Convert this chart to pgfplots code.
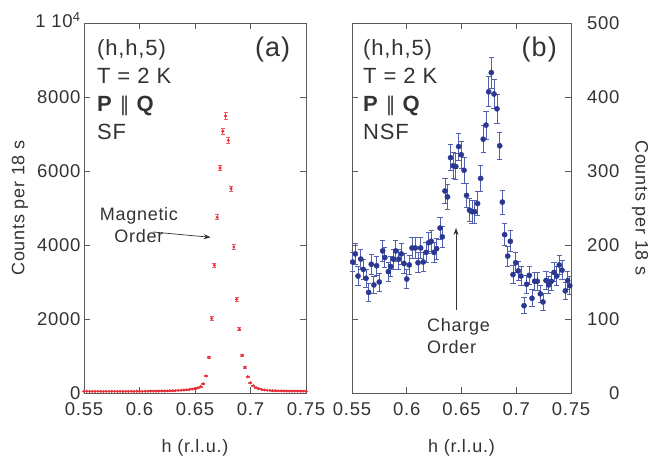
\documentclass[border=0pt]{standalone}
\usepackage{fontspec}
\setmainfont{Liberation Sans}[LetterSpace=4]
\newfontfamily\djv{DejaVu Sans}
\usepackage{pgfplots}
\pgfplotsset{compat=1.18}
\usepackage{pgfplotstable}
\usetikzlibrary{arrows.meta}

\definecolor{frame}{HTML}{5A5A5A}
\definecolor{txt}{HTML}{333333}
\definecolor{sfred}{HTML}{E8303A}
\definecolor{sfbar}{HTML}{EE5A62}
\definecolor{nsfblue}{HTML}{2B3892}
\definecolor{nsfbar}{HTML}{5261AE}

\pgfplotstableread{
x y e
0.5500 45 7
0.5525 48 7
0.5550 44 7
0.5575 46 7
0.5600 43 7
0.5625 47 7
0.5650 45 7
0.5675 42 6
0.5700 46 7
0.5725 44 7
0.5750 48 7
0.5775 45 7
0.5800 43 7
0.5825 47 7
0.5850 44 7
0.5875 46 7
0.5900 45 7
0.5925 48 7
0.5950 44 7
0.5975 47 7
0.6000 46 7
0.6025 45 7
0.6050 49 7
0.6075 47 7
0.6100 50 7
0.6125 48 7
0.6150 52 7
0.6175 50 7
0.6200 54 7
0.6225 53 7
0.6250 57 8
0.6275 60 8
0.6300 62 8
0.6325 66 8
0.6350 70 8
0.6375 74 9
0.6400 80 9
0.6425 86 9
0.6450 95 10
0.6475 105 10
0.6500 120 11
0.6525 140 12
0.6550 175 13
0.6575 250 16
0.6600 460 21
0.6625 964 31
0.6650 2018 45
0.6675 3451 59
0.6700 4748 69
0.6725 6081 78
0.6750 7073 84
0.6775 7486 87
0.6800 6830 83
0.6825 5522 74
0.6850 3946 63
0.6875 2532 50
0.6900 1721 41
0.6925 1018 32
0.6950 694 26
0.6975 441 21
0.7000 275 17
0.7025 195 14
0.7050 145 12
0.7075 115 11
0.7100 95 10
0.7125 82 9
0.7150 74 9
0.7175 68 8
0.7200 64 8
0.7225 60 8
0.7250 58 8
0.7275 56 7
0.7300 55 7
0.7325 53 7
0.7350 52 7
0.7375 52 7
0.7400 50 7
0.7425 51 7
0.7450 49 7
0.7475 50 7
0.7500 48 7
}\sfdata

\pgfplotstableread{
x y e
0.5506 177 13.3
0.5530 188 13.7
0.5555 158 12.6
0.5580 181 13.5
0.5603 167 12.9
0.5628 155 12.4
0.5652 136 11.7
0.5676 174 13.2
0.5700 146 12.1
0.5725 172 13.1
0.5749 150 12.2
0.5780 192 13.9
0.5800 183 13.5
0.5832 164 12.8
0.5853 171 13.1
0.5877 181 13.5
0.5900 192 13.9
0.5927 181 13.5
0.5950 188 13.7
0.5975 175 13.2
0.6000 154 12.4
0.6023 173 13.2
0.6048 196 14.0
0.6078 196 14.0
0.6103 176 13.3
0.6127 196 14.0
0.6150 177 13.3
0.6176 190 13.8
0.6200 203 14.2
0.6224 205 14.3
0.6249 190 13.8
0.6273 195 14.0
0.6304 223 14.9
0.6325 211 14.5
0.6349 273 16.5
0.6372 265 16.3
0.6400 318 17.8
0.6424 307 17.5
0.6448 306 17.5
0.6474 333 18.2
0.6498 322 17.9
0.6523 301 17.3
0.6546 267 16.3
0.6573 247 15.7
0.6596 245 15.7
0.6621 245 15.7
0.6647 256 16.0
0.6675 290 17.0
0.6698 343 18.5
0.6724 362 19.0
0.6748 407 20.2
0.6772 433 20.8
0.6797 404 20.1
0.6824 384 19.6
0.6849 334 18.3
0.6873 258 16.1
0.6894 214 14.6
0.6922 185 13.6
0.6946 205 14.3
0.6970 160 12.6
0.6995 176 13.3
0.7019 165 12.8
0.7043 158 12.6
0.7071 118 10.9
0.7095 147 12.1
0.7119 159 12.6
0.7144 128 11.3
0.7168 151 12.3
0.7192 151 12.3
0.7220 134 11.6
0.7244 123 11.1
0.7272 152 12.3
0.7296 146 12.1
0.7320 151 12.3
0.7345 163 12.8
0.7370 158 12.6
0.7393 173 13.2
0.7418 166 12.9
0.7448 138 11.7
0.7470 152 12.3
0.7489 145 12.0
}\nsfdata

\pgfplotsset{
  panel/.style={
    scale only axis, height=370pt,
    xmin=0.55, xmax=0.75,
    xtick={0.55,0.6,0.65,0.7,0.75},
    xticklabels={0.55,0.6,0.65,0.7,0.75},
    tick align=inside, major tick length=6pt,
    axis line style={frame, line width=0.9pt},
    tick style={frame, line width=0.9pt},
    ticklabel style={font=\fontsize{18.5}{18.5}\selectfont, text=txt},
    xticklabel style={anchor=base, yshift=-23pt},
    xlabel={h (r.l.u.)},
    every axis x label/.style={at={(rel axis cs:0.5,0)}, yshift=-60pt, anchor=base,
      font=\fontsize{18}{18}\selectfont, text=txt},
    clip=false,
  },
}
\tikzset{
  info/.style={font=\fontsize{22}{28}\selectfont, text=txt, align=left, inner sep=0pt},
  tag/.style={font=\fontsize{27}{27}\selectfont, text=txt, inner sep=0pt},
  ann/.style={font=\fontsize{18}{22}\selectfont, text=txt, inner sep=0pt},
}

\begin{document}
\begin{tikzpicture}
\path[use as bounding box] (0,0) rectangle (659pt,460pt);

\begin{axis}[panel,
  at={(84pt,67pt)}, anchor=south west, width=222pt,
  ymin=0, ymax=10000,
  ytick={0,2000,4000,6000,8000,10000},
  yticklabels={0,2000,4000,6000,8000,{\raisebox{6pt}{1 10\textsuperscript{4}}}},
  scaled y ticks=false,
  ylabel={Counts per 18 s},
  every axis y label/.style={at={(rel axis cs:0,0.5)}, xshift=-64pt, rotate=90, anchor=center,
    font=\fontsize{18}{18}\selectfont, text=txt},
]
\addplot+[only marks, mark=*, mark size=1.3pt,
  mark options={fill=sfred, draw=sfred},
  error bars/.cd, y dir=both, y explicit,
  error bar style={sfbar, line width=0.8pt},
  error mark options={rotate=90, mark size=2pt, sfbar, line width=0.8pt}]
  table[x=x, y=y, y error=e]{\sfdata};

\node[info, anchor=north west] at (rel axis cs:0.058,0.957)
  {(h,h,5)\\T = 2 K\\\textbf{P} {\djv\fontsize{20}{20}\selectfont ∥} \textbf{Q}\\SF};
\node[tag, anchor=north east] at (rel axis cs:0.93,0.962) {(a)};
\node[ann, anchor=north, align=center] at (axis cs:0.5995,5027) {Magnetic\\Order};
\draw[-{Stealth[length=7pt,width=5pt]}, txt, line width=0.7pt]
  (axis cs:0.6122,4351) -- (axis cs:0.6641,4208);
\end{axis}

\begin{axis}[panel,
  at={(352pt,67pt)}, anchor=south west, width=219pt,
  ymin=0, ymax=500,
  ytick={0,100,200,300,400,500},
  yticklabels={0,100,200,300,400,500},
  yticklabel pos=right,
  yticklabel style={anchor=east, xshift=52pt},
  ylabel={Counts per 18 s},
  every axis y label/.style={at={(rel axis cs:1,0.5)}, xshift=69pt, rotate=-90, anchor=center,
    font=\fontsize{18}{18}\selectfont, text=txt},
]
\addplot+[only marks, mark=*, mark size=2.6pt,
  mark options={fill=nsfblue, draw=nsfblue},
  error bars/.cd, y dir=both, y explicit,
  error bar style={nsfbar, line width=0.9pt},
  error mark options={rotate=90, mark size=2.6pt, nsfbar, line width=0.9pt}]
  table[x=x, y=y, y error=e]{\nsfdata};

\node[info, anchor=north west] at (rel axis cs:0.05,0.957)
  {(h,h,5)\\T = 2 K\\\textbf{P} {\djv\fontsize{20}{20}\selectfont ∥} \textbf{Q}\\NSF};
\node[tag, anchor=north east] at (rel axis cs:0.936,0.962) {(b)};
\node[ann, anchor=north west, align=left] at (axis cs:0.6185,101) {Charge\\Order};
\draw[-{Stealth[length=7pt,width=5pt]}, txt, line width=0.7pt]
  (axis cs:0.645,112) -- (axis cs:0.645,223);
\end{axis}
\end{tikzpicture}
\end{document}
